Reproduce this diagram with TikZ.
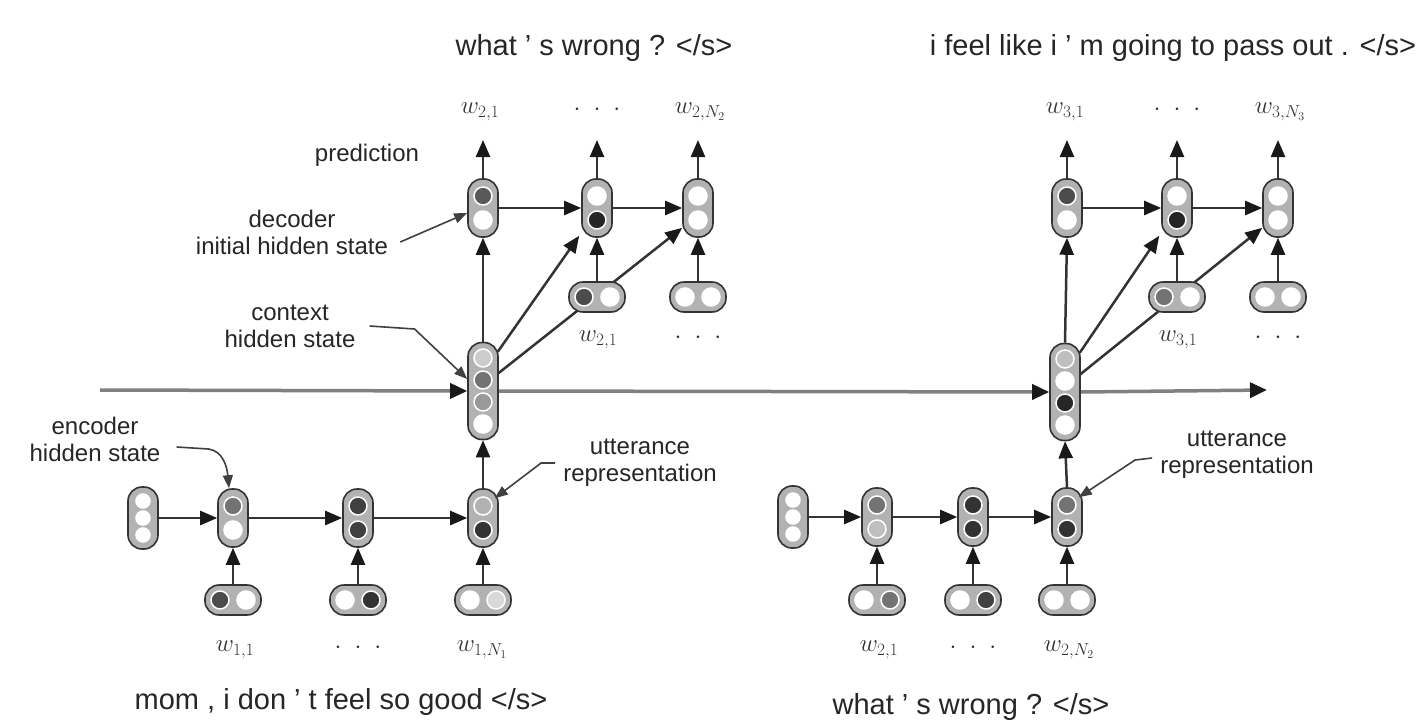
\documentclass[tikz,border=0pt]{standalone}
\usepackage{fontspec}
\setmainfont{Liberation Sans}
\usetikzlibrary{arrows.meta,calc,backgrounds}

\tikzset{
  capv/.style={rounded corners=14pt, draw=black!80, fill=black!30, line width=1.6pt,
    minimum width=30pt, minimum height=58pt, inner sep=0pt},
  capthree/.style={capv, minimum height=62pt},
  capfour/.style={capv, minimum height=97pt},
  caph/.style={capv, minimum width=56pt, minimum height=30pt},
  unit/.style={circle, draw=white, line width=1.5pt, minimum size=18pt, inner sep=0pt},
  smallunit/.style={unit, minimum size=14pt},
  link/.style={draw=black!80, line width=2.5pt, -{Triangle[length=17pt,width=14pt,color=black!90]}},
  flow/.style={draw=black!50, line width=3.5pt, -{Triangle[length=17pt,width=15pt,color=black!90]}},
  lead/.style={draw=black!75, line width=1.6pt, -{Triangle[length=13pt,width=10pt]}},
  note/.style={font=\fontsize{24}{27}\selectfont, align=center, inner sep=0pt, text=black!85},
  sent/.style={font=\fontsize{29}{34}\selectfont, inner sep=0pt, text=black!85},
  word/.style={font=\fontsize{26}{30}\selectfont, inner sep=0pt, text=black!80},
}

% vertical cell with two units
\newcommand{\vtwo}[4]{%
  \node[capv] (#1) at (#2) {};
  \node[unit, fill=#3] (#1-1) at ([yshift=12pt]#1.center) {};
  \node[unit, fill=#4] (#1-2) at ([yshift=-12pt]#1.center) {};}
% initial cell with three small units
\newcommand{\vthree}[2]{%
  \node[capthree] (#1) at (#2) {};
  \node[smallunit, fill=white] (#1-1) at ([yshift=17pt]#1.center) {};
  \node[smallunit, fill=white] (#1-2) at (#1.center) {};
  \node[smallunit, fill=white] (#1-3) at ([yshift=-17pt]#1.center) {};}
% context cell with four units
\newcommand{\vfour}[6]{%
  \node[capfour] (#1) at (#2) {};
  \node[unit, fill=#3] (#1-1) at ([yshift=33pt]#1.center) {};
  \node[unit, fill=#4] (#1-2) at ([yshift=11pt]#1.center) {};
  \node[unit, fill=#5] (#1-3) at ([yshift=-11pt]#1.center) {};
  \node[unit, fill=#6] (#1-4) at ([yshift=-33pt]#1.center) {};}
% horizontal word embedding cell
\newcommand{\htwo}[4]{%
  \node[caph] (#1) at (#2) {};
  \node[unit, fill=#3] (#1-1) at ([xshift=-13pt]#1.center) {};
  \node[unit, fill=#4] (#1-2) at ([xshift=13pt]#1.center) {};}

\newcommand{\dotrow}{$\cdot$\hspace{13pt}$\cdot$\hspace{13pt}$\cdot$}

\begin{document}
\begin{tikzpicture}[x=1pt, y=-1pt]
\useasboundingbox (0,0) rectangle (1427,723);

% ---------------- first utterance ----------------
\vthree{il}{143,518}
\vtwo{el1}{233,518}{black!55}{white}
\vtwo{el2}{358,518}{black!75}{black!75}
\vtwo{el3}{483,518}{black!30}{black!80}
\htwo{xl1}{233,600}{black!70}{white}
\htwo{xl2}{358,600}{white}{black!80}
\htwo{xl3}{483,600}{white}{black!15}
\node[word] (wl1) at (235,650) {$w_{1,1}$};
\node[word] (wl2) at (358,648) {\dotrow};
\node[word] (wl3) at (482,650) {$w_{1,N_1}$};
\node[sent] (sl) at (341,702) {mom , i don ' t feel so good </s>};

% context state
\coordinate (start) at (100,390);
\vfour{cl}{483,391}{black!20}{black!55}{black!40}{white}

% decoder of the second utterance
\vtwo{dl1}{483,208}{black!65}{white}
\vtwo{dl2}{597,208}{white}{black!85}
\vtwo{dl3}{698,208}{white}{white}
\htwo{yl2}{597,297}{black!70}{white}
\htwo{yl3}{698,297}{white}{white}
\node[word] (ul2) at (598,340) {$w_{2,1}$};
\node[word] (ul3) at (698,338) {\dotrow};
\coordinate (ol1) at (483,140);
\coordinate (ol2) at (597,140);
\coordinate (ol3) at (698,140);
\node[word] (vl1) at (480,112) {$w_{2,1}$};
\node[word] (vl2) at (597,110) {\dotrow};
\node[word] (vl3) at (700,112) {$w_{2,N_2}$};
\node[sent] (tl) at (594,48) {what ' s wrong ? </s>};

% ---------------- second utterance ----------------
\vthree{ir}{793,517}
\vtwo{er1}{877,517}{black!55}{black!25}
\vtwo{er2}{973,517}{black!80}{black!80}
\vtwo{er3}{1067,517}{black!55}{black!80}
\htwo{xr1}{877,600}{white}{black!55}
\htwo{xr2}{973,600}{white}{black!75}
\htwo{xr3}{1067,600}{white}{white}
\node[word] (wr1) at (879,650) {$w_{2,1}$};
\node[word] (wr2) at (973,648) {\dotrow};
\node[word] (wr3) at (1069,650) {$w_{2,N_2}$};
\node[sent] (sr) at (971,707) {what ' s wrong ? </s>};

\vfour{cr}{1065,392}{black!25}{white}{black!85}{white}
\coordinate (finish) at (1267,390);

\vtwo{dr1}{1067,208}{black!70}{white}
\vtwo{dr2}{1177,208}{white}{black!85}
\vtwo{dr3}{1278,208}{white}{white}
\htwo{yr2}{1177,297}{black!55}{white}
\htwo{yr3}{1278,297}{white}{white}
\node[word] (ur2) at (1178,340) {$w_{3,1}$};
\node[word] (ur3) at (1278,338) {\dotrow};
\coordinate (or1) at (1067,140);
\coordinate (or2) at (1177,140);
\coordinate (or3) at (1278,140);
\node[word] (vr1) at (1065,112) {$w_{3,1}$};
\node[word] (vr2) at (1177,110) {\dotrow};
\node[word] (vr3) at (1280,112) {$w_{3,N_3}$};
\node[sent] (tr) at (1173,48) {i feel like i ' m going to pass out . </s>};

% ---------------- annotations ----------------
\node[note] (predn) at (367,155) {prediction};
\node[note] (decn) at (292,232) {decoder\\initial hidden state};
\node[note] (ctxn) at (290,326) {context\\hidden state};
\node[note] (encn) at (95,439) {encoder\\hidden state};
\node[note] (utln) at (640,463) {utterance\\representation};
\node[note] (utrn) at (1237,455) {utterance\\representation};

% ---------------- connectors (behind the cells) ----------------
\begin{pgfonlayer}{background}
\fill[white] (0,0) rectangle (1427,723);
% context recurrence
\draw[flow] (start) -- (cl.west);
\draw[flow] (cl.east) -- (cr.west);
\draw[flow] (cr.east) -- (finish);

\foreach \e in {l,r}{
  % encoder
  \draw[link] (i\e.east) -- (e\e1.west);
  \draw[link] (e\e1.east) -- (e\e2.west);
  \draw[link] (e\e2.east) -- (e\e3.west);
  \draw[link] (x\e1.north) -- (e\e1.south);
  \draw[link] (x\e2.north) -- (e\e2.south);
  \draw[link] (x\e3.north) -- (e\e3.south);
  % utterance representation to context
  \draw[link] (e\e3.north) -- (c\e.south);
  % decoder
  \draw[link] (c\e.north) -- (d\e1.south);
  \draw[link] (d\e1.east) -- (d\e2.west);
  \draw[link] (d\e2.east) -- (d\e3.west);
  \draw[link] (y\e2.north) -- (d\e2.south);
  \draw[link] (y\e3.north) -- (d\e3.south);
  \draw[link] (d\e1.north) -- (o\e1);
  \draw[link] (d\e2.north) -- (o\e2);
  \draw[link] (d\e3.north) -- (o\e3);
  % context fed to every decoder step
  \draw[link] ([xshift=-1pt,yshift=-10pt]c\e.north east) -- ([xshift=-2pt,yshift=2pt]d\e2.south west);
  \draw[link] ([xshift=-1pt,yshift=-32pt]c\e.north east) -- ([yshift=10pt]d\e3.south west);
}
\end{pgfonlayer}

\draw[lead] ([xshift=12pt,yshift=-10pt]decn.east) -- ([yshift=-5pt]dl1.west);
\draw[lead] ([xshift=14pt]ctxn.east) -- ++(45,3) -- ([yshift=12pt]cl.west);
\draw[lead] ([xshift=16pt,yshift=-8pt]encn.east) -- ++(32,2)
  .. controls +(14,2) and +(-2,-22) .. ([xshift=-4pt]el1.north);
\draw[lead] ([xshift=-8pt]utln.west) -- ++(-14,0) -- ([xshift=-4pt,yshift=-10pt]el3.north east);
\draw[lead] ([xshift=-8pt,yshift=-3pt]utrn.west) -- ++(-17,2) -- ([xshift=-4pt,yshift=-10pt]er3.north east);
\end{tikzpicture}
\end{document}
